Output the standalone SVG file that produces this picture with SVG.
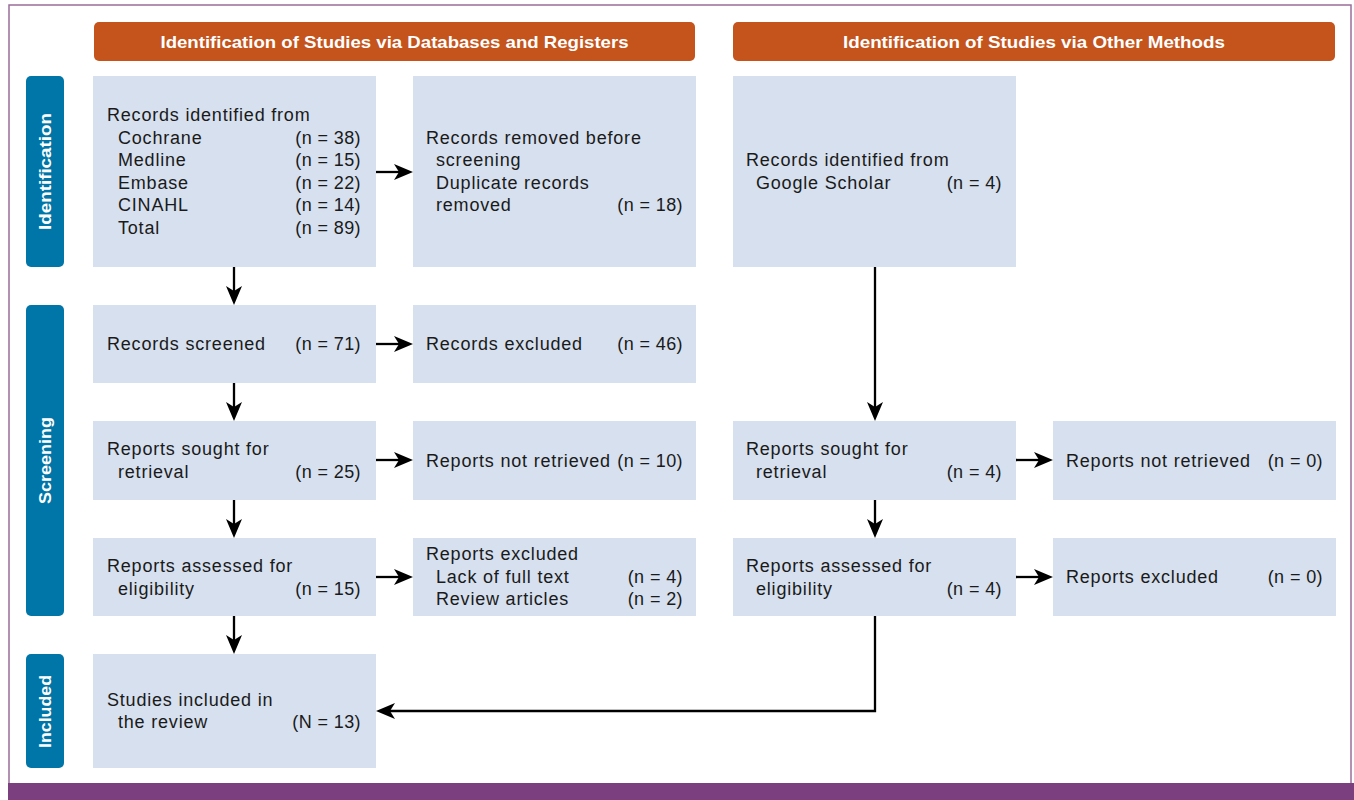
<svg xmlns="http://www.w3.org/2000/svg" width="1354" height="800" viewBox="0 0 1354 800">
  <defs>
    <marker id="ah" markerUnits="userSpaceOnUse" markerWidth="20" markerHeight="18" viewBox="0 0 20 18" refX="14" refY="8" orient="auto">
      <path d="M0,0 L19,8 L0,16 L5,8 Z" fill="#000"/>
    </marker>
    <style>
      .box { fill: #D6E0EE; }
      .hdr { fill: #C4531C; }
      .side { fill: #0076A8; }
      .t { font-family: "Liberation Sans", Arial, sans-serif; font-size: 18px; fill: #1a1a1a; letter-spacing: 0.8px; }
      .r { text-anchor: end; letter-spacing: 0.4px; }
      .ht { font-family: "Liberation Sans", Arial, sans-serif; font-size: 17px; font-weight: bold; fill: #fff; text-anchor: middle; }
      .st { font-family: "Liberation Sans", Arial, sans-serif; font-size: 17px; font-weight: bold; fill: #fff; text-anchor: middle; }
      .c { fill: none; stroke: #000; stroke-width: 2.3; marker-end: url(#ah); }
    </style>
  </defs>

  <rect x="0" y="0" width="1354" height="800" fill="#fff"/>
  <rect x="9" y="5" width="1342" height="779" fill="none" stroke="#9A6E9B" stroke-width="1.5"/>
  <rect x="8" y="783" width="1346" height="17" fill="#7B3F7F"/>

  <g id="header-databases">
    <rect class="hdr" x="94" y="22" width="601" height="39" rx="5"/>
    <text class="ht" x="394.5" y="47.5" textLength="468" lengthAdjust="spacingAndGlyphs">Identification of Studies via Databases and Registers</text>
  </g>
  <g id="header-other">
    <rect class="hdr" x="733" y="22" width="602" height="39" rx="5"/>
    <text class="ht" x="1034" y="47.5" textLength="382" lengthAdjust="spacingAndGlyphs">Identification of Studies via Other Methods</text>
  </g>

  <g id="side-identification">
    <rect class="side" x="26" y="76" width="38" height="191" rx="5"/>
    <text class="st" transform="translate(51,171.5) rotate(-90)" textLength="117" lengthAdjust="spacingAndGlyphs">Identification</text>
  </g>
  <g id="side-screening">
    <rect class="side" x="26" y="305" width="38" height="311" rx="5"/>
    <text class="st" transform="translate(51,460.5) rotate(-90)" textLength="87" lengthAdjust="spacingAndGlyphs">Screening</text>
  </g>
  <g id="side-included">
    <rect class="side" x="26" y="654" width="38" height="114" rx="5"/>
    <text class="st" transform="translate(51,711.5) rotate(-90)" textLength="73" lengthAdjust="spacingAndGlyphs">Included</text>
  </g>

  <g id="records-identified-db">
    <rect class="box" x="93" y="76" width="283" height="191"/>
    <text class="t" x="107" y="121">Records identified from</text>
    <text class="t" x="118" y="143.5">Cochrane</text><text class="t r" x="361" y="143.5">(n = 38)</text>
    <text class="t" x="118" y="166">Medline</text><text class="t r" x="361" y="166">(n = 15)</text>
    <text class="t" x="118" y="188.5">Embase</text><text class="t r" x="361" y="188.5">(n = 22)</text>
    <text class="t" x="118" y="211">CINAHL</text><text class="t r" x="361" y="211">(n = 14)</text>
    <text class="t" x="118" y="233.5">Total</text><text class="t r" x="361" y="233.5">(n = 89)</text>
  </g>

  <g id="records-removed">
    <rect class="box" x="413" y="76" width="283" height="191"/>
    <text class="t" x="426" y="143.5">Records removed before</text>
    <text class="t" x="436" y="166">screening</text>
    <text class="t" x="436" y="188.5">Duplicate records</text>
    <text class="t" x="436" y="211">removed</text><text class="t r" x="683" y="211">(n = 18)</text>
  </g>

  <g id="records-identified-other">
    <rect class="box" x="733" y="76" width="283" height="191"/>
    <text class="t" x="746" y="166">Records identified from</text>
    <text class="t" x="756" y="188.5">Google Scholar</text><text class="t r" x="1002" y="188.5">(n = 4)</text>
  </g>

  <g id="records-screened">
    <rect class="box" x="93" y="305" width="283" height="78"/>
    <text class="t" x="107" y="350">Records screened</text><text class="t r" x="361" y="350">(n = 71)</text>
  </g>

  <g id="records-excluded">
    <rect class="box" x="413" y="305" width="283" height="78"/>
    <text class="t" x="426" y="350">Records excluded</text><text class="t r" x="683" y="350">(n = 46)</text>
  </g>

  <g id="reports-sought-db">
    <rect class="box" x="93" y="421" width="283" height="79"/>
    <text class="t" x="107" y="455">Reports sought for</text>
    <text class="t" x="118" y="477.5">retrieval</text><text class="t r" x="361" y="477.5">(n = 25)</text>
  </g>

  <g id="reports-not-retrieved-db">
    <rect class="box" x="413" y="421" width="283" height="79"/>
    <text class="t" x="426" y="466.5">Reports not retrieved</text><text class="t r" x="683" y="466.5">(n = 10)</text>
  </g>

  <g id="reports-sought-other">
    <rect class="box" x="733" y="421" width="283" height="79"/>
    <text class="t" x="746" y="455">Reports sought for</text>
    <text class="t" x="756" y="477.5">retrieval</text><text class="t r" x="1002" y="477.5">(n = 4)</text>
  </g>

  <g id="reports-not-retrieved-other">
    <rect class="box" x="1053" y="421" width="283" height="79"/>
    <text class="t" x="1066" y="466.5">Reports not retrieved</text><text class="t r" x="1323" y="466.5">(n = 0)</text>
  </g>

  <g id="reports-assessed-db">
    <rect class="box" x="93" y="538" width="283" height="78"/>
    <text class="t" x="107" y="572">Reports assessed for</text>
    <text class="t" x="118" y="594.5">eligibility</text><text class="t r" x="361" y="594.5">(n = 15)</text>
  </g>

  <g id="reports-excluded-db">
    <rect class="box" x="413" y="538" width="283" height="78"/>
    <text class="t" x="426" y="560">Reports excluded</text>
    <text class="t" x="436" y="583">Lack of full text</text><text class="t r" x="683" y="583">(n = 4)</text>
    <text class="t" x="436" y="605">Review articles</text><text class="t r" x="683" y="605">(n = 2)</text>
  </g>

  <g id="reports-assessed-other">
    <rect class="box" x="733" y="538" width="283" height="78"/>
    <text class="t" x="746" y="572">Reports assessed for</text>
    <text class="t" x="756" y="594.5">eligibility</text><text class="t r" x="1002" y="594.5">(n = 4)</text>
  </g>

  <g id="reports-excluded-other">
    <rect class="box" x="1053" y="538" width="283" height="78"/>
    <text class="t" x="1066" y="583">Reports excluded</text><text class="t r" x="1323" y="583">(n = 0)</text>
  </g>

  <g id="studies-included">
    <rect class="box" x="93" y="654" width="283" height="114"/>
    <text class="t" x="107" y="706">Studies included in</text>
    <text class="t" x="118" y="728">the review</text><text class="t r" x="361" y="728">(N = 13)</text>
  </g>

  <g id="connectors">
    <line class="c" x1="376" y1="172" x2="408" y2="172"/>
    <line class="c" x1="234" y1="267" x2="234" y2="300"/>
    <line class="c" x1="376" y1="344" x2="408" y2="344"/>
    <line class="c" x1="234" y1="383" x2="234" y2="416"/>
    <line class="c" x1="376" y1="460" x2="408" y2="460"/>
    <line class="c" x1="234" y1="500" x2="234" y2="533"/>
    <line class="c" x1="376" y1="577" x2="408" y2="577"/>
    <line class="c" x1="234" y1="616" x2="234" y2="649"/>
    <line class="c" x1="875" y1="267" x2="875" y2="416"/>
    <line class="c" x1="1016" y1="460" x2="1048" y2="460"/>
    <line class="c" x1="875" y1="500" x2="875" y2="533"/>
    <line class="c" x1="1016" y1="577" x2="1048" y2="577"/>
    <polyline class="c" points="875,616 875,711 381,711"/>
  </g>
</svg>
